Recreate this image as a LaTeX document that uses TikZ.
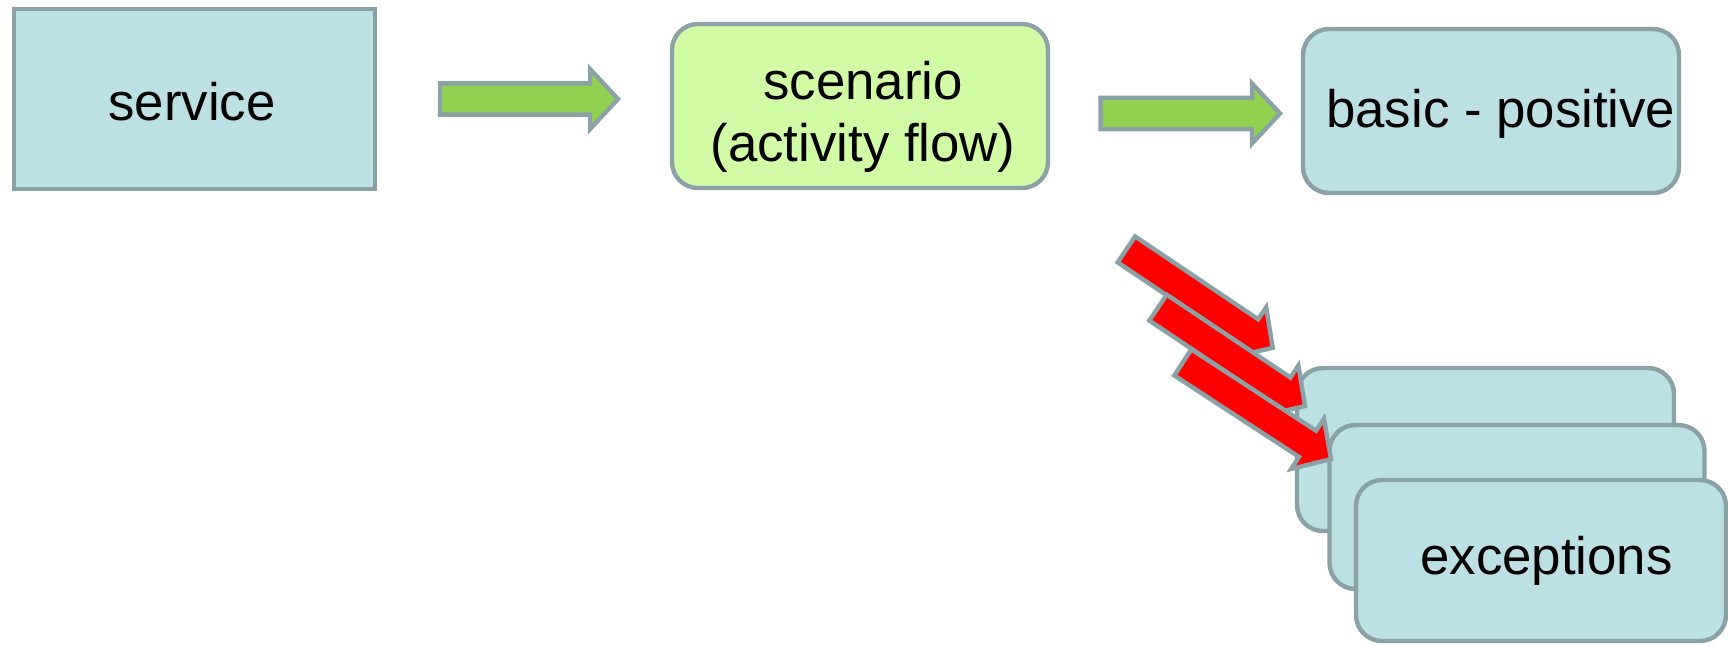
\documentclass[tikz,border=0pt]{standalone}
\usepackage{fontspec}
\setmainfont{Liberation Sans}
\usetikzlibrary{calc}

\definecolor{edgegray}{HTML}{8AA2A5}
\definecolor{boxblue}{HTML}{BCE0E3}
\definecolor{boxlime}{HTML}{D1FBA5}
\definecolor{arrowgreen}{HTML}{92D050}
\definecolor{arrowred}{HTML}{FF0000}

\tikzset{
  box/.style={draw=edgegray, line width=2.2pt, fill=boxblue, inner sep=0pt},
  roundbox/.style={box, rounded corners=13pt},
  boxtext/.style={font=\fontsize{26.4}{31}\selectfont, inner sep=0pt, text=black},
  greenarrow/.style={draw=edgegray, line width=2.2pt, fill=arrowgreen},
  redarrow/.style={draw=edgegray, line width=2.2pt, fill=arrowred}
}

% block arrow from a tail coordinate to a tip coordinate
% #1 style, #2 tail, #3 tip
\newcommand\fatarrow[3]{%
  \coordinate (fa-base) at ($(#3)!14pt!(#2)$);
  \draw[#1] ($(#2)!7.8pt!90:(#3)$) -- ($(fa-base)!7.8pt!90:(#3)$)
    -- ($(fa-base)!15pt!90:(#3)$) -- (#3)
    -- ($(fa-base)!15pt!-90:(#3)$) -- ($(fa-base)!7.8pt!-90:(#3)$)
    -- ($(#2)!7.8pt!-90:(#3)$) -- cycle;
}

\begin{document}
\begin{tikzpicture}[x=0.5pt, y=-0.5pt]
  \useasboundingbox (0,0) rectangle (1728,645);

  % boxes
  \node[box, minimum width=180.5pt, minimum height=90pt] (svc) at (194.5,99) {};
  \node[roundbox, fill=boxlime, minimum width=188pt, minimum height=82pt] (scn) at (860,106) {};
  \node[roundbox, minimum width=188pt, minimum height=82pt] (bp) at (1491,111) {};
  \node[roundbox, minimum width=188.5pt, minimum height=81.5pt] (ex1) at (1485.5,449.5) {};
  \node[roundbox, minimum width=187.5pt, minimum height=82pt] (ex2) at (1517,507) {};
  \node[roundbox, minimum width=185pt, minimum height=80.5pt] (ex3) at (1541,560.5) {};

  % labels
  \node[boxtext, anchor=base] (svct) at (192,120) {service};
  \node[boxtext, align=center] (scnt) at (863,117) {scenario\\(activity flow)};
  \node[boxtext, anchor=base] (bpt) at (1500.8,127.7) {basic - positive};
  \node[boxtext, anchor=base] (ext) at (1546.5,574) {exceptions};

  % arrow end points
  \coordinate (g1a) at (440,99);      \coordinate (g1b) at (618,99);
  \coordinate (g2a) at (1100.6,113.5); \coordinate (g2b) at (1280,113.5);
  \coordinate (r1a) at (1126.4,249.4); \coordinate (r1b) at (1272.7,347.8);
  \coordinate (r2a) at (1158,307.6);   \coordinate (r2b) at (1305,406);
  \coordinate (r3a) at (1182.8,362.4); \coordinate (r3b) at (1331,459.1);

  % block arrows
  \fatarrow{greenarrow}{g1a}{g1b}
  \fatarrow{greenarrow}{g2a}{g2b}
  \fatarrow{redarrow}{r1a}{r1b}
  \fatarrow{redarrow}{r2a}{r2b}
  \fatarrow{redarrow}{r3a}{r3b}
\end{tikzpicture}
\end{document}
